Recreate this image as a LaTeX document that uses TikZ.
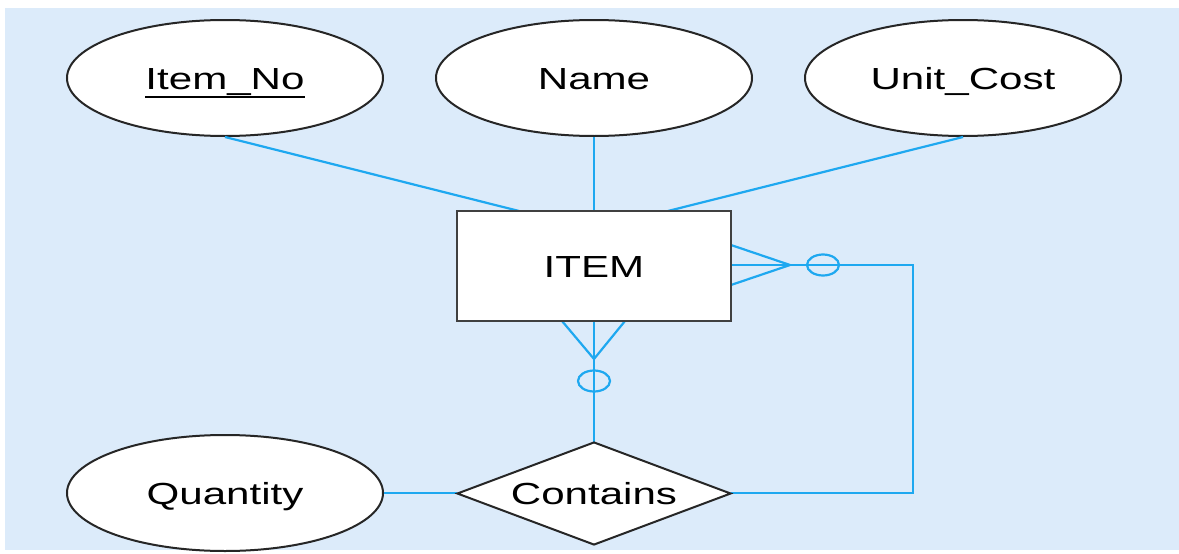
\documentclass[tikz,border=0pt]{standalone}
\usepackage{fontspec}
\setmainfont{Liberation Sans}[FakeStretch=1.38]
\usetikzlibrary{shapes.geometric}
\definecolor{bgblue}{RGB}{220,235,250}
\definecolor{lineblue}{RGB}{30,168,240}
\newcommand{\myul}[1]{\setbox0\hbox{#1}\rlap{\rule[-9pt]{\wd0}{2pt}}\box0}
\begin{document}
\begin{tikzpicture}[x=1pt,y=-1pt,
  every node/.style={font=\fontsize{30.5}{36}\selectfont, text height=22pt, text depth=0pt, inner sep=0pt},
  attr/.style={ellipse, draw=black!85, line width=2pt, fill=white, minimum width=316pt, minimum height=116pt},
  ent/.style={rectangle, draw=black!75, line width=2.4pt, fill=white, minimum width=274pt, minimum height=110pt},
  rel/.style={diamond, aspect=2.66, draw=black!85, line width=2pt, fill=white, minimum width=274pt, minimum height=103pt},
  conn/.style={draw=lineblue, line width=2.2pt},
  opt/.style={ellipse, draw=lineblue, line width=2.2pt, minimum width=32pt, minimum height=21pt, text height=0pt}
]
\useasboundingbox (0,0) rectangle (1179,554);
\fill[white] (0,0) rectangle (1179,554);
\fill[bgblue] (5,8) rectangle (1179,550);

\coordinate (cfb) at (594,359);
\coordinate (cfr) at (790,265);
\coordinate (corner) at (913,265);

\node[attr] (ItemNo) at (225,78) {\myul{Item\_No}};
\node[attr] (Name) at (594,78) {Name};
\node[attr] (UnitCost) at (963,78) {Unit\_Cost};
\node[attr] (Quantity) at (225,493) {Quantity};

\draw[conn] (ItemNo.south) -- (519,211);
\draw[conn] (Name.south) -- (594,211);
\draw[conn] (UnitCost.south) -- (668,211);

\draw[conn] (594,321) -- (594,442);
\draw[conn] (562,321) -- (cfb) -- (625,321);
\draw[conn] (731,265) -- (corner) |- (731,493);
\draw[conn] (731,245) -- (cfr) -- (731,285);
\draw[conn] (Quantity.east) -- (457,493);

\node[ent] (ITEM) at (594,266) {ITEM};
\node[rel] (Contains) at (594,493.5) {Contains};

\node[opt] (ob) at (594,381) {};
\node[opt] (or) at (823,265) {};
\end{tikzpicture}
\end{document}
